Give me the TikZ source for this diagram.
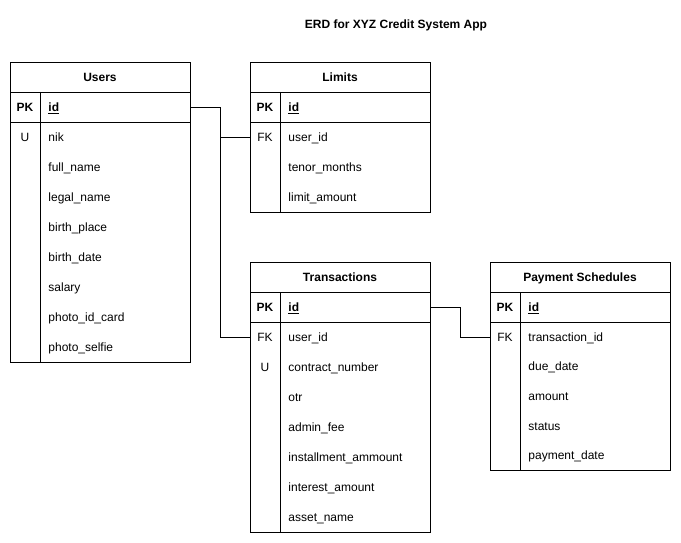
\documentclass[tikz,border=0pt]{standalone}
\usepackage{fontspec}
\setmainfont{Liberation Sans}
\begin{document}
\begin{tikzpicture}[x=1pt, y=-1pt, line width=0.9pt,
	every node/.style={font=\fontsize{12}{14}\selectfont, inner sep=0pt,
		text height=10pt, text depth=1.4pt},
	heading/.style={font=\fontsize{12}{14}\selectfont\bfseries},
	cell/.style={minimum width=180pt, minimum height=30pt},
	field/.style={anchor=west},
	pk/.style={font=\fontsize{12}{14}\selectfont\bfseries}]
\useasboundingbox (0,0) rectangle (681,543);

\node [heading] (diagram) at (396,24) {ERD for XYZ Credit System App};

% Users
\draw (10,62) rectangle (190,362);
\draw (10,92) -- (190,92) (10,122) -- (190,122) (40,92) -- (40,362);
\node [heading] (users) at (100,77) {Users};
\node [cell] (users-pk) at (100,107) {};
\node [pk] at (25,107) {PK};
\node [field] at (48,107) {\textbf{\underline{id}}};
\node at (25,137) {U};
\foreach \f [count=\i from 0] in {nik, full\_name, legal\_name, birth\_place,
	birth\_date, salary, photo\_id\_card, photo\_selfie}
	\node [field] at (48,137+30*\i) {\f};

% Limits
\draw (250,62) rectangle (430,212);
\draw (250,92) -- (430,92) (250,122) -- (430,122) (280,92) -- (280,212);
\node [heading] (limits) at (340,77) {Limits};
\node [pk] at (265,107) {PK};
\node [field] at (288,107) {\textbf{\underline{id}}};
\node [cell] (limits-fk) at (340,137) {};
\node at (265,137) {FK};
\foreach \f [count=\i from 0] in {user\_id, tenor\_months, limit\_amount}
	\node [field] at (288,137+30*\i) {\f};

% Transactions
\draw (250,262) rectangle (430,532);
\draw (250,292) -- (430,292) (250,322) -- (430,322) (280,292) -- (280,532);
\node [heading] (transactions) at (340,277) {Transactions};
\node [cell] (trans-pk) at (340,307) {};
\node [pk] at (265,307) {PK};
\node [field] at (288,307) {\textbf{\underline{id}}};
\node [cell] (trans-fk) at (340,337) {};
\node at (265,337) {FK};
\node at (265,367) {U};
\foreach \f [count=\i from 0] in {user\_id, contract\_number, otr, admin\_fee,
	installment\_ammount, interest\_amount, asset\_name}
	\node [field] at (288,337+30*\i) {\f};

% Payment Schedules
\draw (490,262) rectangle (670,470);
\draw (490,292) -- (670,292) (490,322) -- (670,322) (520,292) -- (520,470);
\node [heading] (payments) at (580,277) {Payment Schedules};
\node [pk] at (505,307) {PK};
\node [field] at (528,307) {\textbf{\underline{id}}};
\node [cell] (pay-fk) at (580,337) {};
\node at (505,337) {FK};
\foreach \f [count=\i from 0] in {transaction\_id, due\_date, amount, status,
	payment\_date}
	\node [field] at (528,337+29.6*\i) {\f};

% relations
\draw (users-pk.east) -- ++(30,0) |- (limits-fk.west);
\draw (users-pk.east) -- ++(30,0) |- (trans-fk.west);
\draw (trans-pk.east) -- ++(30,0) |- (pay-fk.west);
\end{tikzpicture}
\end{document}
